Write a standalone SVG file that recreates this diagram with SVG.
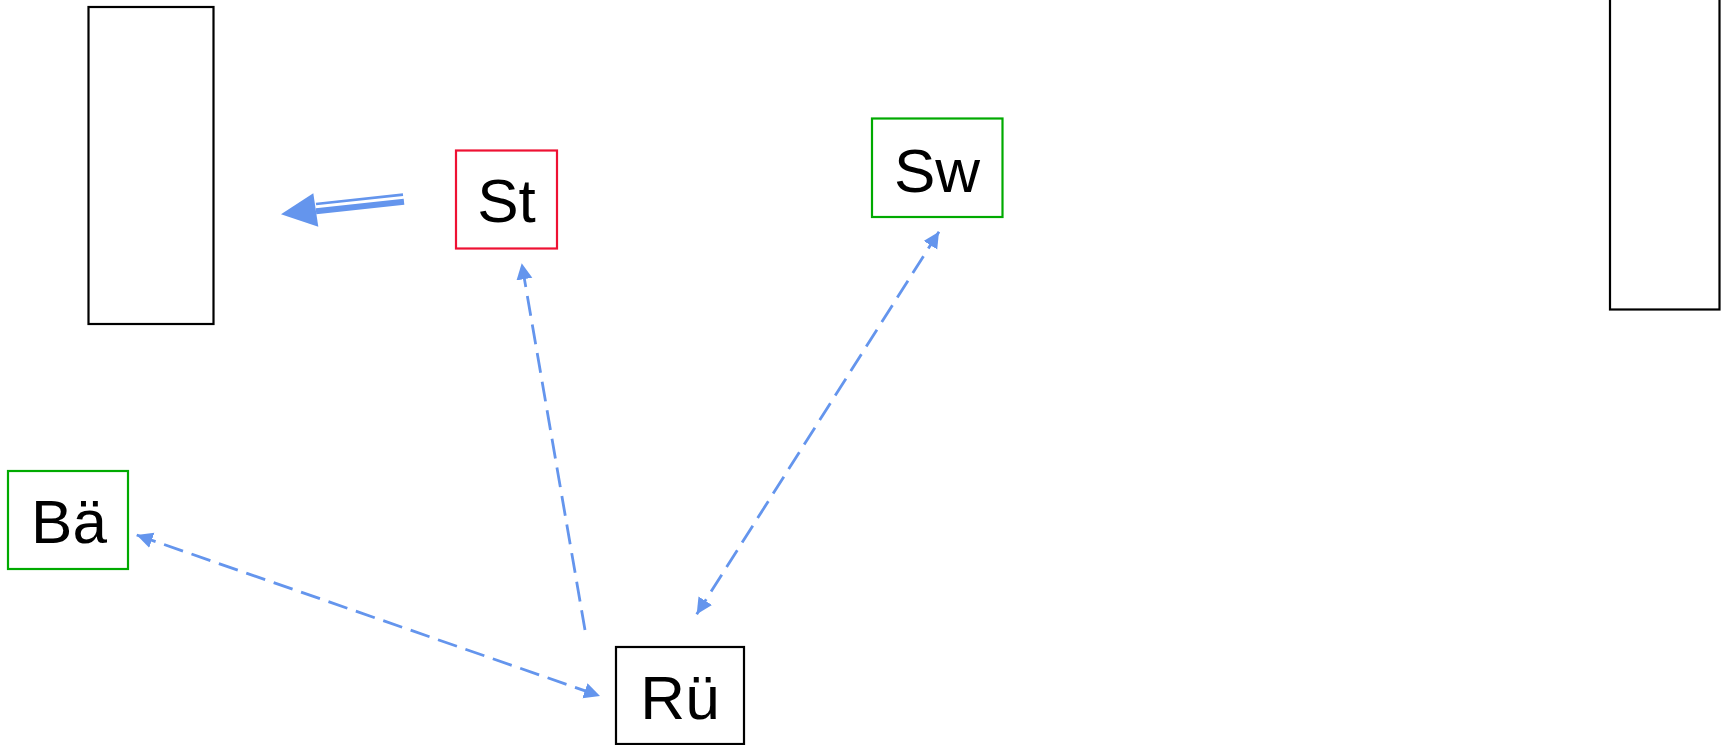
<svg xmlns="http://www.w3.org/2000/svg" width="1734" height="745" viewBox="0 0 1734 745">
<defs>
<style>
.box{fill:#fff;stroke-width:2.2}
.blk{stroke:#000}
.grn{stroke:#00aa00}
.red{stroke:#ee1133}
.lbl{font-family:"Liberation Sans",Arial,sans-serif;font-size:62px;fill:#000;text-anchor:middle}
.dash{fill:none;stroke:#6495ed;stroke-width:2.8;stroke-dasharray:20,9}
</style>
<marker id="ah" markerUnits="userSpaceOnUse" markerWidth="18" markerHeight="17" refX="16" refY="8" orient="auto-start-reverse" viewBox="0 0 18 17">
<path d="M0,0 L16,8 L0,16 z" fill="#6495ed"/>
</marker>
</defs>
<rect width="1734" height="745" fill="#fff"/>
<g id="connectors">
<line class="dash" x1="585" y1="630" x2="521.7" y2="263.3" marker-end="url(#ah)"/>
<line class="dash" x1="939" y1="231.7" x2="696.7" y2="614.3" marker-start="url(#ah)" marker-end="url(#ah)"/>
<line class="dash" x1="136.7" y1="535" x2="600" y2="696" marker-start="url(#ah)" marker-end="url(#ah)"/>
<g id="thick-arrow" fill="#6495ed" stroke="#6495ed">
<line x1="404" y1="201.8" x2="316" y2="211.2" stroke-width="6"/>
<line x1="403" y1="194.6" x2="316" y2="204" stroke-width="2.6"/>
<polygon points="281,214.3 313.3,193.3 318.3,226.7" stroke="none"/>
</g>
</g>
<g id="node-left"><rect class="box blk" x="88.5" y="7" width="125" height="317" stroke-width="2.5"/></g>
<g id="node-right"><rect class="box blk" x="1610" y="-5" width="109.5" height="314.5" stroke-width="2.5"/></g>
<g id="node-st"><rect class="box red" x="456" y="150.5" width="101" height="98"/><text class="lbl" x="506.5" y="222">St</text></g>
<g id="node-sw"><rect class="box grn" x="872" y="118.5" width="130.5" height="98.5"/><text class="lbl" x="937" y="191.5">Sw</text></g>
<g id="node-ba"><rect class="box grn" x="8" y="471" width="120" height="98"/><text class="lbl" x="69" y="543.3">Bä</text></g>
<g id="node-ru"><rect class="box blk" x="616" y="647" width="128" height="97"/><text class="lbl" x="680" y="719">Rü</text></g>
</svg>
